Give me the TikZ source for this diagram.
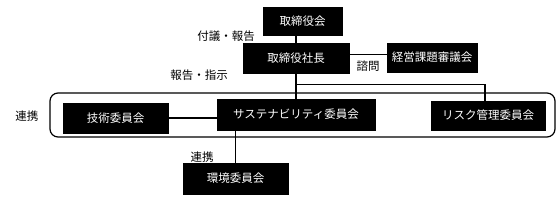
\documentclass[tikz,border=0pt]{standalone}
\usepackage{fontspec}
\setmainfont{Noto Sans CJK JP}
\tikzset{
  box/.style={draw=black, fill=black, text=white, inner sep=0pt, font=\fontsize{11.5}{12}\selectfont},
  lbl/.style={inner sep=0pt, text=black, font=\fontsize{11.5}{12}\selectfont},
  conn/.style={draw=black, line width=1.8pt},
  thinconn/.style={draw=black, line width=1pt},
  frame/.style={draw=black, line width=1.2pt, rounded corners=8pt}
}
\begin{document}
\begin{tikzpicture}[x=1pt,y=-1pt]
\useasboundingbox (0,0) rectangle (560,200);
\node[frame, minimum width=505pt, minimum height=44pt, inner sep=0pt] (grp) at (302.5,115) {};
\node[box, minimum width=79pt, minimum height=28pt] (board) at (302.5,21) {取締役会};
\node[box, minimum width=106pt, minimum height=30pt] (shacho) at (296,58) {取締役社長};
\node[box, minimum width=90pt, minimum height=29pt] (keiei) at (432,57.5) {経営課題審議会};
\node[box, minimum width=105pt, minimum height=30pt] (gijutsu) at (115.5,118) {技術委員会};
\node[box, minimum width=158pt, minimum height=31pt] (sust) at (296,114.5) {サステナビリティ委員会};
\node[box, minimum width=114pt, minimum height=29pt] (risk) at (488,115.5) {リスク管理委員会};
\node[box, minimum width=105pt, minimum height=31pt] (kankyo) at (235.5,178.5) {環境委員会};
% connectors
\draw[conn] (shacho.north) -- (shacho.north |- board.south);
\draw[conn] (shacho.south) -- (sust.north);
\draw[thinconn] ([yshift=3pt]shacho.east) -- ([yshift=3pt]shacho.east -| keiei.west);
\coordinate (br) at (296,84.5);
\draw[conn] (br) -| ([xshift=-3pt]risk.north);
\draw[conn] (gijutsu.east) -- (sust.west |- gijutsu.east);
\draw[conn] (sust.south -| kankyo.north) -- (kankyo.north);
% labels
\node[lbl] (l1) at (226,36) {付議・報告};
\node[lbl] (l2) at (199,75) {報告・指示};
\node[lbl] (l3) at (368,66) {諮問};
\node[lbl] (l4) at (27,116) {連携};
\node[lbl] (l5) at (202,157) {連携};
\end{tikzpicture}
\end{document}
